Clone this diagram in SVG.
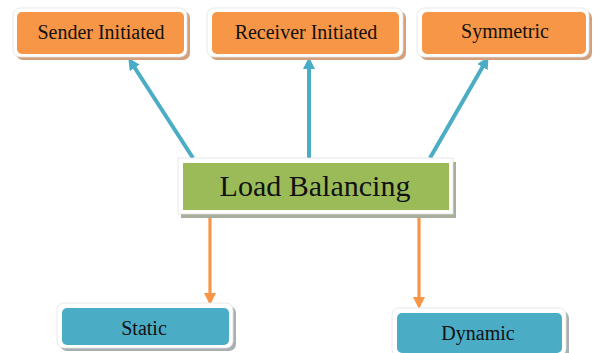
<svg xmlns="http://www.w3.org/2000/svg" width="593" height="353" viewBox="0 0 593 353">
<defs>
<style>
.txt{font-family:"Liberation Serif","Times New Roman",serif;fill:#111;text-anchor:middle}
.outer{fill:#fff;stroke:#e2e2e2;stroke-width:0.8}
.or{fill:#f79646}
.bl{fill:#4bacc6}
.gr{fill:#9bbb59}
.shO{fill:#d3a07b}
.shG{fill:#a8ae9c}
.shB{fill:#a9b0b4}
.ab{stroke:#4bacc6;stroke-width:4;fill:none}
.ao{stroke:#f79646;stroke-width:3.2;fill:none}
</style>
<marker id="mb" markerWidth="12" markerHeight="12" refX="7" refY="6" orient="auto" markerUnits="userSpaceOnUse" viewBox="0 0 12 12">
<path d="M0,0 L12,6 L0,12 z" fill="#4bacc6"/>
</marker>
<marker id="mo" markerWidth="12" markerHeight="12" refX="9" refY="6" orient="auto" markerUnits="userSpaceOnUse" viewBox="0 0 12 12">
<path d="M0,0 L12,6 L0,12 z" fill="#f79646"/>
</marker>
</defs>
<rect width="593" height="353" fill="#fff"/>
<g id="connectors">
<line class="ab" x1="193" y1="158" x2="131" y2="62" marker-end="url(#mb)"/>
<line class="ab" x1="309" y1="158" x2="309" y2="62" marker-end="url(#mb)"/>
<line class="ab" x1="430" y1="158" x2="486" y2="61" marker-end="url(#mb)"/>
<line class="ao" x1="210" y1="213" x2="210" y2="302" marker-end="url(#mo)"/>
<line class="ao" x1="419" y1="213" x2="419" y2="306" marker-end="url(#mo)"/>
</g>
<g id="sender">
<rect class="shO" x="16" y="11" width="174" height="49" rx="7"/>
<rect class="outer" x="13" y="8" width="174" height="49" rx="7"/>
<rect class="or" x="17" y="12" width="167" height="42" rx="5"/>
<text class="txt" x="101" y="39" font-size="20">Sender Initiated</text>
</g>
<g id="receiver">
<rect class="shO" x="210" y="11" width="196" height="49" rx="7"/>
<rect class="outer" x="207" y="8" width="196" height="49" rx="7"/>
<rect class="or" x="212" y="12" width="187" height="42" rx="5"/>
<text class="txt" x="306" y="39" font-size="20">Receiver Initiated</text>
</g>
<g id="symmetric">
<rect class="shO" x="420" y="11" width="172" height="49" rx="7"/>
<rect class="outer" x="417" y="8" width="172" height="49" rx="7"/>
<rect class="or" x="422" y="12" width="164" height="42" rx="5"/>
<text class="txt" x="505" y="38" font-size="20">Symmetric</text>
</g>
<g id="load">
<rect class="shG" x="181" y="162" width="275" height="56"/>
<rect class="outer" x="178" y="158" width="275" height="56"/>
<rect class="gr" x="183" y="163" width="266" height="47"/>
<text class="txt" x="315" y="196" font-size="30">Load Balancing</text>
</g>
<g id="static">
<rect class="shB" x="60" y="306" width="176" height="45" rx="7"/>
<rect class="outer" x="57" y="303" width="176" height="45" rx="7"/>
<rect class="bl" x="62" y="308" width="167" height="37" rx="5"/>
<text class="txt" x="144" y="335" font-size="20">Static</text>
</g>
<g id="dynamic">
<rect class="shB" x="395" y="311" width="174" height="48" rx="7"/>
<rect class="outer" x="392" y="308" width="174" height="48" rx="7"/>
<rect class="bl" x="397" y="313" width="165" height="40" rx="5"/>
<text class="txt" x="478" y="340" font-size="20">Dynamic</text>
</g>
</svg>
